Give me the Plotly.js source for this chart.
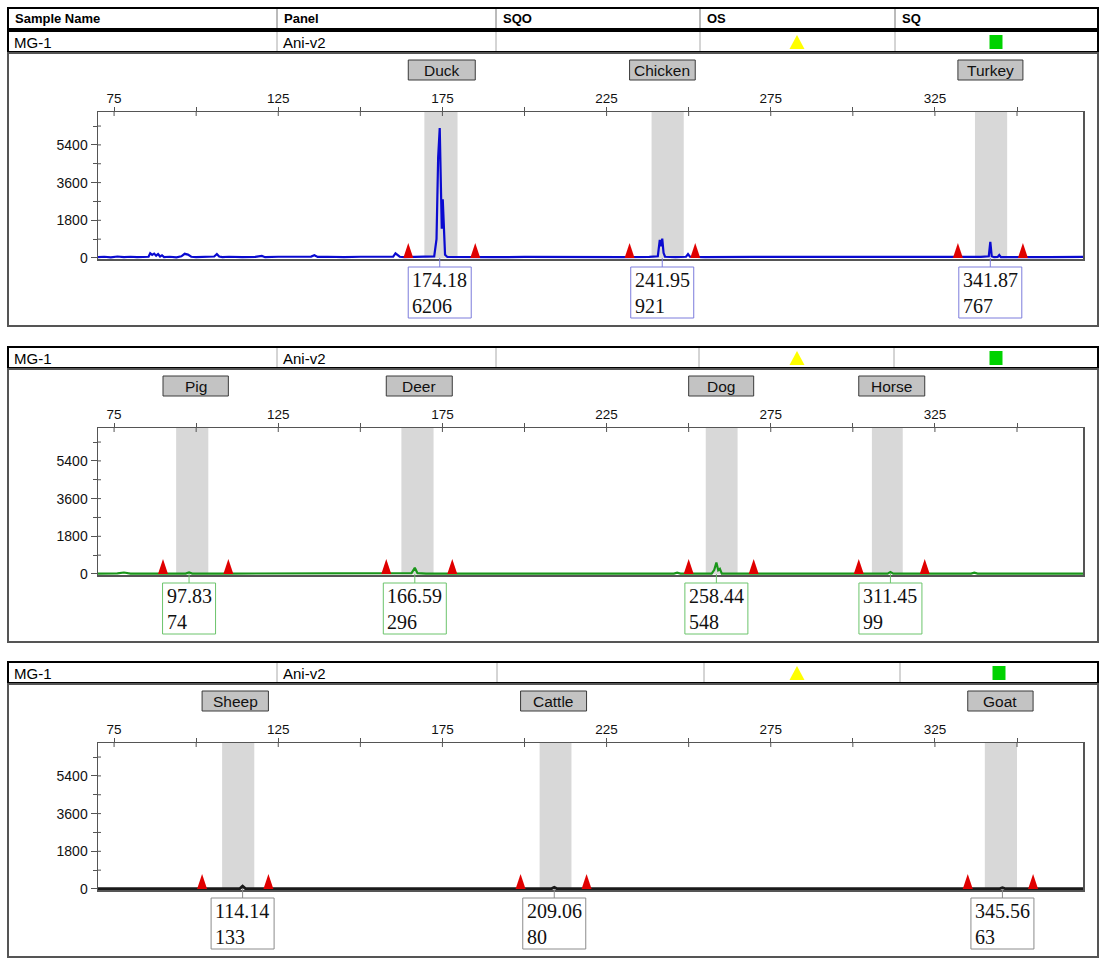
<!DOCTYPE html>
<html><head><meta charset="utf-8">
<script src="https://cdn.plot.ly/plotly-3.0.1.min.js"></script>
<style>html,body{margin:0;padding:0;background:#fff}#chart{width:1103px;height:963px}</style>
</head><body><div id="chart"></div>
<script>
// ---------------- DATA ----------------
const headerCols = ['Sample Name', 'Panel', 'SQO', 'OS', 'SQ'];
const sampleName = 'MG-1';
const panelName = 'Ani-v2';

const xTickVals = [75, 125, 175, 225, 275, 325];
const xMinorVals = [100, 150, 200, 250, 300, 350];
const yTickVals = [0, 1800, 3600, 5400];
const yMinorVals = [900, 2700, 4500, 6300];

// Panel 1 (blue dye)
const p1Bins = ['Duck', 'Chicken', 'Turkey'];
const p1BinLo = [169.5, 238.7, 337.2];
const p1BinHi = [179.6, 248.5, 347.0];
const p1MarkLo = [164.6, 232.0, 332.0];
const p1MarkHi = [185.0, 252.0, 351.8];
const p1PeakSize = [174.18, 241.95, 341.87];
const p1PeakHeight = [6206, 921, 767];
const p1TraceX = [70.1, 72, 74, 76, 78, 80, 82, 84, 85.5, 86, 86.6, 87.2, 87.8, 88.4, 89, 89.6, 90.2, 92, 94, 95.5, 96.5, 97.5, 98.5, 100, 102, 104, 105.5, 106.3, 107, 108, 110, 114, 118, 120, 121, 125, 130, 135, 136, 137, 140, 145, 150, 155, 160, 160.7, 161.3, 162, 163.5, 166, 170, 172.5, 173.2, 173.7, 174.18, 174.5, 174.8, 175.1, 175.4, 175.8, 176.5, 180, 185, 190, 200, 210, 220, 230, 238, 240.6, 241.2, 241.6, 241.95, 242.35, 242.8, 246, 249.2, 249.8, 250.4, 255, 270, 290, 310, 330, 339, 341.4, 341.87, 342.3, 343, 344.1, 344.6, 345.1, 350, 360, 370.1];
const p1TraceY = [40, 60, 30, 70, 40, 60, 40, 50, 60, 230, 150, 210, 110, 190, 70, 130, 40, 60, 30, 80, 200, 160, 60, 40, 60, 50, 70, 190, 70, 40, 60, 40, 50, 100, 40, 60, 50, 70, 130, 50, 60, 40, 60, 50, 60, 220, 150, 60, 40, 50, 40, 80, 900, 4800, 6206, 3200, 1400, 2800, 1300, 150, 50, 40, 60, 40, 50, 40, 50, 40, 50, 80, 860, 560, 921, 250, 60, 40, 60, 190, 60, 40, 50, 40, 50, 40, 50, 80, 767, 80, 40, 50, 140, 40, 50, 40, 50];

// Panel 2 (green dye)
const p2Bins = ['Pig', 'Deer', 'Dog', 'Horse'];
const p2BinLo = [93.9, 162.5, 255.2, 305.8];
const p2BinHi = [103.7, 172.3, 264.9, 315.2];
const p2MarkLo = [89.9, 157.9, 250.0, 301.8];
const p2MarkHi = [109.8, 178.0, 269.8, 321.9];
const p2PeakSize = [97.83, 166.59, 258.44, 311.45];
const p2PeakHeight = [74, 296, 548, 99];
const p2TraceX = [70.1, 76, 78, 80, 90, 96.8, 97.83, 98.8, 110, 130, 150, 160, 165.6, 166.59, 167.4, 170, 200, 230, 245.5, 246.5, 247.5, 257, 257.8, 258.44, 259, 259.5, 260.1, 270, 290, 310.6, 311.45, 312.3, 330, 336, 337, 338, 355, 370.1];
const p2TraceY = [20, 30, 70, 20, 20, 20, 74, 20, 20, 20, 20, 20, 40, 296, 40, 20, 20, 20, 20, 60, 20, 20, 200, 548, 180, 250, 20, 20, 20, 20, 99, 20, 20, 20, 60, 20, 20, 20];

// Panel 3 (black dye)
const p3Bins = ['Sheep', 'Cattle', 'Goat'];
const p3BinLo = [107.9, 204.6, 340.2];
const p3BinHi = [117.7, 214.3, 350.0];
const p3MarkLo = [101.8, 198.8, 335.0];
const p3MarkHi = [122.0, 218.9, 354.9];
const p3PeakSize = [114.14, 209.06, 345.56];
const p3PeakHeight = [133, 80, 63];
const p3TraceX = [70.1, 90, 113.3, 114.14, 115, 150, 180, 208.3, 209.06, 209.8, 250, 300, 344.8, 345.56, 346.3, 370.1];
const p3TraceY = [20, 20, 20, 133, 20, 20, 20, 20, 80, 20, 20, 20, 20, 63, 20, 20];

// ---------------- LAYOUT HELPERS ----------------
const W = 1103, H = 963;
const PX = v => v / W;
const PY = v => 1 - v / H;
const SANS = 'Liberation Sans, Arial, sans-serif';
const SERIF = 'Liberation Serif, Times New Roman, serif';
const LABEL_FS = 20;

const panels = [
  {bins: p1Bins, lo: p1BinLo, hi: p1BinHi, mlo: p1MarkLo, mhi: p1MarkHi, ps: p1PeakSize, ph: p1PeakHeight,
   tx: p1TraceX, ty: p1TraceY, color: '#0a0ad0', lw: 2.2, box: '#7c7cdc', off: 0, cols: [277, 496, 700, 895], tri: 797, sq: 996},
  {bins: p2Bins, lo: p2BinLo, hi: p2BinHi, mlo: p2MarkLo, mhi: p2MarkHi, ps: p2PeakSize, ph: p2PeakHeight,
   tx: p2TraceX, ty: p2TraceY, color: '#1a961a', lw: 2.2, box: '#6cc46c', off: 316, cols: [277, 496, 699, 894], tri: 797, sq: 996},
  {bins: p3Bins, lo: p3BinLo, hi: p3BinHi, mlo: p3MarkLo, mhi: p3MarkHi, ps: p3PeakSize, ph: p3PeakHeight,
   tx: p3TraceX, ty: p3TraceY, color: '#1a1a1a', lw: 2.8, box: '#8c8c8c', off: 631, cols: [277, 497, 704, 900], tri: 797, sq: 999}
];

const traces = [];
const shapes = [];
const annotations = [];
const layout = {
  width: W, height: H, margin: {l: 0, r: 0, t: 0, b: 0},
  paper_bgcolor: '#fff', plot_bgcolor: '#fff', showlegend: false,
  font: {family: SANS, size: 13, color: '#111'}
};

function rectPx(x0, y0, x1, y1, line, fill, layer) {
  shapes.push({type: 'rect', xref: 'paper', yref: 'paper', x0: PX(x0), x1: PX(x1), y0: PY(y1), y1: PY(y0),
    line: line, fillcolor: fill || 'rgba(0,0,0,0)', layer: layer || 'above'});
}
function linePx(x0, y0, x1, y1, line) {
  shapes.push({type: 'line', xref: 'paper', yref: 'paper', x0: PX(x0), x1: PX(x1), y0: PY(y0), y1: PY(y1), line: line});
}
function textPx(x, y, text, font, xanchor) {
  annotations.push({xref: 'paper', yref: 'paper', x: PX(x), y: PY(y), text: text, showarrow: false,
    xanchor: xanchor || 'left', yanchor: 'middle', font: font});
}
// approximate Times width of a number string (style helper)
function serifWidth(str, fs) {
  let w = 0;
  for (const ch of str) w += (ch === '.' ? 0.25 : 0.5) * fs;
  return w;
}

// Column header row (top of page)
rectPx(8, 8, 1098, 29, {color: '#000', width: 2});
[277, 496, 700, 895].forEach(c => linePx(c, 9, c, 28, {color: '#777', width: 1}));
const hdrX = [13, 282, 501, 705, 900];
headerCols.forEach((t, i) => textPx(hdrX[i], 18.5, '<b>' + t + '</b>', {family: SANS, size: 13, color: '#000'}));

panels.forEach((p, i) => {
  const n = i + 1;
  const xa = n === 1 ? 'x' : 'x' + n;
  const ya = n === 1 ? 'y' : 'y' + n;
  const d = p.off;

  // sample row
  rectPx(8, 31 + d, 1098, 52 + d, {color: '#000', width: 2});
  p.cols.forEach(c => linePx(c, 32 + d, c, 51 + d, {color: '#aaa', width: 1}));
  textPx(12, 42 + d, sampleName, {family: SANS, size: 15, color: '#000'});
  textPx(281, 42 + d, panelName, {family: SANS, size: 15, color: '#000'});
  shapes.push({type: 'path', xref: 'paper', yref: 'paper', xsizemode: 'pixel', ysizemode: 'pixel',
    xanchor: PX(p.tri), yanchor: PY(42 + d), path: 'M-7.5,-7 L7.5,-7 L0,7 Z', fillcolor: '#ffff00', line: {width: 0}});
  rectPx(p.sq - 6.5, 35 + d, p.sq + 6.5, 49 + d, {width: 0}, '#00d200');

  // panel frame
  rectPx(8, 53 + d, 1098, 326 + d, {color: '#555', width: 2});

  // axes
  layout['xaxis' + (n === 1 ? '' : n)] = {
    domain: [PX(98), PX(1083)], range: [70.1, 370.1], anchor: ya, side: 'top',
    tickmode: 'array', tickvals: xTickVals, ticks: 'outside', ticklen: 4, tickcolor: '#555', tickwidth: 1,
    ticklabelstandoff: -2,
    minor: {tickmode: 'array', tickvals: xMinorVals, ticks: 'outside', ticklen: 4, tickcolor: '#555', tickwidth: 1},
    showline: true, mirror: true, linecolor: '#555', linewidth: 1.5, showgrid: false, zeroline: false,
    tickfont: {family: SANS, size: 13.5, color: '#111'}, fixedrange: true, layer: 'below traces'
  };
  layout['yaxis' + (n === 1 ? '' : n)] = {
    domain: [PY(259 + d), PY(112 + d)], range: [-48, 6971], anchor: xa,
    tickmode: 'array', tickvals: yTickVals, ticks: 'outside', ticklen: 6, tickcolor: '#555', tickwidth: 1,
    minor: {tickmode: 'array', tickvals: yMinorVals, ticks: 'outside', ticklen: 4, tickcolor: '#555', tickwidth: 1},
    showline: true, mirror: true, linecolor: '#555', linewidth: 1.5, showgrid: false, zeroline: false,
    tickfont: {family: SANS, size: 14, color: '#111'}, fixedrange: true, layer: 'below traces'
  };

  // inner part of the x ticks (ticks cross the top frame line)
  xTickVals.concat(xMinorVals).forEach(tv => {
    shapes.push({type: 'line', xref: xa, yref: ya + ' domain', ysizemode: 'pixel', yanchor: 1,
      x0: tv, x1: tv, y0: 0, y1: -4, line: {color: '#555', width: 1}});
  });
  // inner part of the y ticks
  yTickVals.concat(yMinorVals).forEach(tv => {
    if (tv === 0) return;
    shapes.push({type: 'line', xref: xa + ' domain', yref: ya, xsizemode: 'pixel', xanchor: 0,
      x0: 0, x1: 3, y0: tv, y1: tv, line: {color: '#555', width: 1}});
  });

  // bins (grey)
  p.lo.forEach((lo, k) => {
    shapes.push({type: 'rect', xref: xa, yref: ya + ' domain', x0: lo, x1: p.hi[k], y0: 0.005, y1: 1,
      fillcolor: '#d8d8d8', line: {width: 0}, layer: 'below'});
  });

  // bin name boxes
  p.bins.forEach((name, k) => {
    shapes.push({type: 'rect', xref: xa, yref: 'paper', x0: p.mlo[k], x1: p.mhi[k], y0: PY(80 + d), y1: PY(60 + d),
      fillcolor: '#c3c3c3', line: {color: '#3a3a3a', width: 1}});
    annotations.push({xref: xa, yref: 'paper', x: (p.mlo[k] + p.mhi[k]) / 2, y: PY(70.5 + d), text: name,
      showarrow: false, xanchor: 'center', yanchor: 'middle', font: {family: SANS, size: 15.5, color: '#111'}});
  });

  // trace
  traces.push({type: 'scatter', mode: 'lines', x: p.tx, y: p.ty, xaxis: xa, yaxis: ya,
    line: {color: p.color, width: p.lw}, hoverinfo: 'skip'});

  // red bin-edge triangles
  p.mlo.concat(p.mhi).forEach(mx => {
    shapes.push({type: 'path', xref: xa, yref: ya, xsizemode: 'pixel', ysizemode: 'pixel',
      xanchor: mx, yanchor: 0, path: 'M-5,0 L5,0 L0,15 Z', fillcolor: '#e00000', line: {width: 0}});
  });

  // peak labels: box + connector + two-line text
  p.ps.forEach((s, k) => {
    const t1 = s.toFixed(2), t2 = String(p.ph[k]);
    const w = serifWidth(t1, LABEL_FS) + 8;
    const base = PY(258 + d);
    shapes.push({type: 'line', xref: xa, yref: 'paper', ysizemode: 'pixel', yanchor: base,
      x0: s, x1: s, y0: 0, y1: -9, line: {color: p.box, width: 1}});
    shapes.push({type: 'rect', xref: xa, yref: 'paper', xsizemode: 'pixel', ysizemode: 'pixel',
      xanchor: s, yanchor: base, x0: -w / 2, x1: w / 2, y0: -9, y1: -60,
      fillcolor: '#fff', line: {color: p.box, width: 1}});
    annotations.push({xref: xa, yref: 'paper', x: s, y: PY(292.5 + d), xshift: -w / 2 + 3,
      text: t1 + '<br>' + t2, showarrow: false, xanchor: 'left', yanchor: 'middle', align: 'left', borderpad: 0,
      font: {family: SERIF, size: LABEL_FS, color: '#111'}});
  });
});

layout.shapes = shapes;
layout.annotations = annotations;
Plotly.newPlot('chart', traces, layout, {displayModeBar: false, staticPlot: true});
</script>
</body></html>
